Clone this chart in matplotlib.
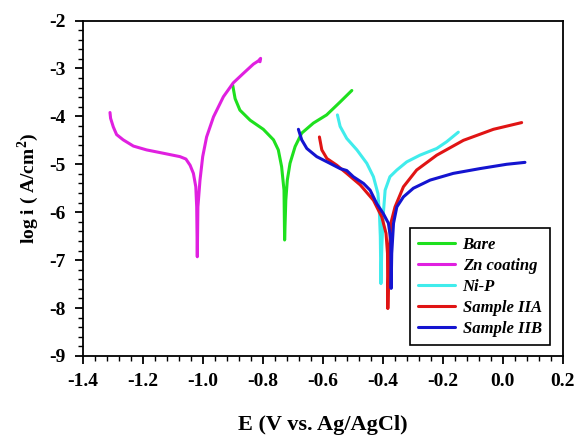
import numpy as np
import matplotlib
matplotlib.use('Agg')
import matplotlib.pyplot as plt
from matplotlib.ticker import MultipleLocator, FormatStrFormatter

plt.rcParams['font.family'] = ['Liberation Serif', 'DejaVu Serif']
plt.rcParams['font.weight'] = 'bold'
plt.rcParams['axes.unicode_minus'] = False
plt.rcParams['mathtext.fontset'] = 'custom'
plt.rcParams['mathtext.rm'] = 'Liberation Serif:bold'
plt.rcParams['mathtext.bf'] = 'Liberation Serif:bold'

labels = ['Bare', 'Zn coating', 'Ni-P', 'Sample IIA', 'Sample IIB']
colors = ['#1ee01e', '#e020e0', '#40ecec', '#e01414', '#1414d0']

# potential (V) and log current density, cathodic branch -> tip -> anodic branch
bare_E = [-0.900, -0.892, -0.876, -0.842, -0.798, -0.764, -0.748, -0.737, -0.729, -0.727,
          -0.723, -0.718, -0.709, -0.692, -0.670, -0.631, -0.587, -0.542, -0.503]
bare_i = [-3.35, -3.63, -3.87, -4.08, -4.27, -4.49, -4.70, -5.05, -5.54, -6.58,
          -5.75, -5.33, -4.98, -4.63, -4.35, -4.14, -3.97, -3.70, -3.46]

zn_E = [-1.309, -1.307, -1.298, -1.287, -1.265, -1.231, -1.187, -1.131, -1.076, -1.056,
        -1.042, -1.031, -1.023, -1.020, -1.018,
        -1.016, -1.009, -1.000, -0.987, -0.964, -0.931, -0.898, -0.864, -0.831, -0.814,
        -0.807, -0.809]
zn_i = [-3.92, -4.04, -4.22, -4.38, -4.49, -4.62, -4.70, -4.77, -4.84, -4.89,
        -5.02, -5.19, -5.47, -5.89, -6.93,
        -5.89, -5.33, -4.84, -4.43, -4.01, -3.59, -3.30, -3.10, -2.91, -2.84,
        -2.79, -2.86]

nip_E = [-0.551, -0.542, -0.520, -0.486, -0.453, -0.431, -0.416, -0.411, -0.408, -0.406,
         -0.403, -0.398, -0.392, -0.376, -0.353, -0.320, -0.276, -0.220, -0.187, -0.148]
nip_i = [-3.97, -4.21, -4.46, -4.70, -4.98, -5.26, -5.61, -6.03, -6.51, -7.49,
         -6.72, -6.03, -5.54, -5.26, -5.12, -4.95, -4.81, -4.67, -4.53, -4.33]

iia_E = [-0.611, -0.603, -0.586, -0.553, -0.520, -0.475, -0.431, -0.403, -0.389, -0.384, -0.383,
         -0.380, -0.373, -0.359, -0.331, -0.287, -0.220, -0.131, -0.031, 0.063]
iia_i = [-4.43, -4.70, -4.88, -5.02, -5.19, -5.43, -5.75, -6.10, -6.44, -6.86, -8.01,
         -7.14, -6.23, -5.89, -5.47, -5.12, -4.81, -4.50, -4.27, -4.13]

iib_E = [-0.681, -0.670, -0.653, -0.620, -0.576, -0.542, -0.520, -0.498, -0.464, -0.442,
         -0.420, -0.398, -0.381, -0.373, -0.372,
         -0.370, -0.364, -0.353, -0.331, -0.298, -0.242, -0.165, -0.076, 0.013, 0.074]
iib_i = [-4.27, -4.49, -4.67, -4.84, -4.98, -5.09, -5.13, -5.26, -5.40, -5.54,
         -5.82, -6.03, -6.23, -6.58, -7.59,
         -6.86, -6.23, -5.89, -5.68, -5.50, -5.33, -5.19, -5.09, -5.00, -4.96]

series = [(bare_E, bare_i), (zn_E, zn_i), (nip_E, nip_i), (iia_E, iia_i), (iib_E, iib_i)]

fig = plt.figure(figsize=(5.77, 4.42), dpi=100)
ax = fig.add_axes([0.1433, 0.1946, 0.832, 0.759])

for (E, i), lab, c in zip(series, labels, colors):
    ax.plot(E, i, color=c, lw=2.2, label=lab, solid_joinstyle='round', solid_capstyle='round')

ax.set_xlim(-1.4, 0.2)
ax.set_ylim(-9, -2)
ax.xaxis.set_major_locator(MultipleLocator(0.2))
ax.xaxis.set_minor_locator(MultipleLocator(0.04))
ax.yaxis.set_major_locator(MultipleLocator(1))
ax.yaxis.set_minor_locator(MultipleLocator(0.2))
ax.xaxis.set_major_formatter(FormatStrFormatter('%.1f'))
ax.tick_params(which='major', direction='out', length=6, width=1.3, labelsize=14, pad=6)
ax.tick_params(which='minor', direction='out', length=3.5, width=1.0)
ax.tick_params(top=False, right=False)
for s in ax.spines.values():
    s.set_linewidth(1.3)

ax.set_xlabel('E (V vs. Ag/AgCl)', fontsize=16, fontweight='bold', labelpad=18)
ax.set_ylabel(r'log i ( A/cm$^{\mathbf{2}}$)', fontsize=14, fontweight='bold', labelpad=6)

leg = ax.legend(loc='lower right', bbox_to_anchor=(0.9735, 0.033), borderaxespad=0,
                fancybox=False, edgecolor='black', framealpha=1,
                prop={'family': 'Liberation Serif', 'weight': 'bold', 'style': 'italic', 'size': 12},
                handlelength=2.2, handletextpad=0.45, labelspacing=0.3, borderpad=0.5)
leg.get_frame().set_linewidth(1.2)

fig.savefig('out.png', dpi=100)
